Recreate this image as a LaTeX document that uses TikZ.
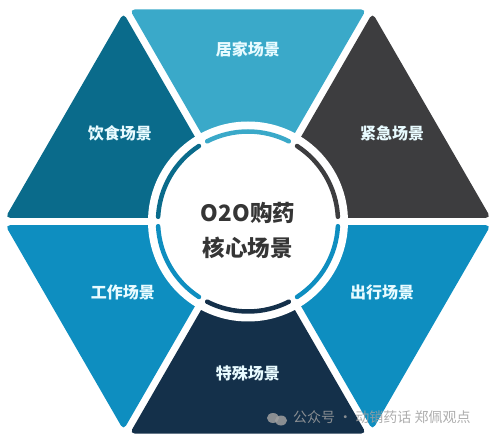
\documentclass[tikz,border=0pt]{standalone}
\usepackage{fontspec}
\setmainfont{Noto Sans CJK SC}
\usepackage{tikz}
\usetikzlibrary{calc}
\definecolor{homeblue}{HTML}{3AA9C9}
\definecolor{urgentgray}{HTML}{3D3D3F}
\definecolor{travelblue}{HTML}{0E8EC0}
\definecolor{specialnavy}{HTML}{14304A}
\definecolor{workblue}{HTML}{0E8EC0}
\definecolor{foodteal}{HTML}{0A6B8B}
\definecolor{labelwhite}{HTML}{E8FBFF}
\definecolor{coretext}{HTML}{353535}
\tikzset{
scene label/.style = {text = labelwhite, font = \bfseries\fontsize{16}{16}\selectfont, inner sep = 0pt},
core text/.style = {text = coretext, font = \bfseries\fontsize{22.5}{35}\selectfont, align = center},
core ring/.style = {line width = 4.5pt, line cap = round},
mark text/.style = {text = gray!75, opacity = 0.85, font = \fontsize{14}{14}\selectfont, inner sep = 0pt, anchor = west},
}

\begin{document}
\begin{tikzpicture}[x = 1pt, y = 1pt]
    \useasboundingbox (-248, -219.5) rectangle (247, 221.5);
    % six scene sectors
    \foreach \a/\col/\pos/\txt in {90/homeblue/{0,172.5}/居家场景, 30/urgentgray/{144,88.5}/紧急场景, -30/travelblue/{134,-70.5}/出行场景, -90/specialnavy/{0,-151.5}/特殊场景, -150/workblue/{-125,-70.5}/工作场景, 150/foodteal/{-128,88.5}/饮食场景}{
        \fill[\col, rounded corners = 5pt] ($(\a:7.2)$) -- ($(\a:7.2) + 0.95*(\a-30:249)$) -- ($(\a:7.2) + 0.95*(\a+30:249)$) -- cycle;
        \node[scene label] (scene \a) at (\pos) {\txt};
    }
    % core disc and ring
    \fill[white] (0, 0) circle (100);
    \foreach \a/\col in {90/homeblue, 30/urgentgray, -30/travelblue, -90/specialnavy, -150/workblue, 150/foodteal}
        \draw[core ring, draw = \col] (\a-27:90) arc[start angle = \a-27, end angle = \a+27, radius = 90];
    \node[core text] (core) at (0, -9) {O2O购药\\核心场景};
    % watermark
    \fill[gray!75, opacity = 0.85] (25, -196.5) ellipse (6 and 5);
    \fill[gray!75, opacity = 0.85] (33, -199) ellipse (6 and 5);
    \node[mark text] (mark) at (45, -196) {公众号 · 动销药话 郑佩观点};
\end{tikzpicture}
\end{document}
